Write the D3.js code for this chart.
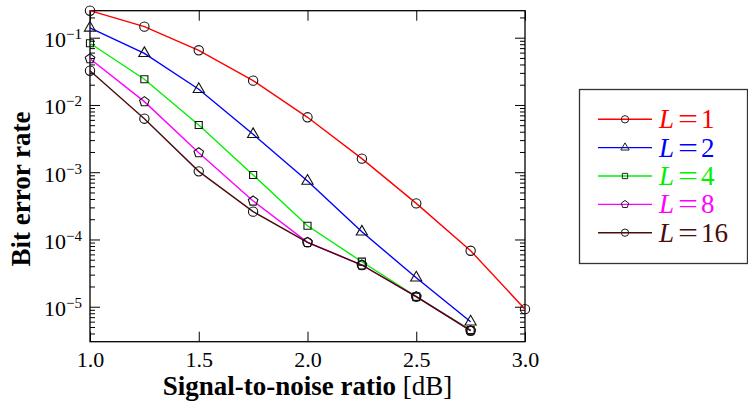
<!DOCTYPE html>
<html>
<head>
<meta charset="utf-8">
<script src="https://cdn.jsdelivr.net/npm/d3@7"></script>
<style>
  html, body { margin: 0; padding: 0; background: #fff; }
  svg { display: block; }
</style>
</head>
<body>
<svg id="chart" width="748" height="404"></svg>
<script>
// Signal-to-noise ratio grid (dB)
const snr = [1.0, 1.25, 1.5, 1.75, 2.0, 2.25, 2.5, 2.75, 3.0];

// Bit error rate per diversity order L
const berL1  = [0.252, 0.146, 0.065, 0.0230, 0.00655, 0.00159, 3.44e-4, 6.8e-5, 9.2e-6];
const berL2  = [0.14, 0.0586, 0.0171, 0.00366, 7.4e-4, 1.30e-4, 2.7e-5, 5.98e-6];
const berL4  = [0.0826, 0.0241, 0.00504, 9.1e-4, 1.60e-4, 4.67e-5, 1.41e-5, 4.5e-6];
const berL8  = [0.0487, 0.0112, 0.00195, 3.73e-4, 9.05e-5, 4.17e-5, 1.41e-5, 4.4e-6];
const berL16 = [0.0323, 0.00625, 0.00103, 2.59e-4, 9.05e-5, 4.17e-5, 1.41e-5, 4.4e-6];

const seriesNames = ["1", "2", "4", "8", "16"];
const seriesValues = [berL1, berL2, berL4, berL8, berL16];
const seriesColors = ["#ff0000", "#0000ff", "#00f000", "#ff00ff", "#4a0c0c"];

const xTicks = [1.0, 1.5, 2.0, 2.5, 3.0];
const yMajorExponents = [-1, -2, -3, -4, -5];

const xLabel = "Signal-to-noise ratio";
const xUnit = "[dB]";
const yLabel = "Bit error rate";

const SERIF = '"Liberation Serif", "Times New Roman", serif';

// Pentagon marker for d3.symbol
const symbolPentagon = {
  draw(context, size) {
    const r = Math.sqrt(size / 2.378);
    for (let i = 0; i < 5; i++) {
      const a = -Math.PI / 2 + i * 2 * Math.PI / 5;
      const px = r * Math.cos(a), py = r * Math.sin(a);
      if (i === 0) context.moveTo(px, py); else context.lineTo(px, py);
    }
    context.closePath();
  }
};
const seriesSymbols = [d3.symbolCircle, d3.symbolTriangle, d3.symbolSquare, symbolPentagon, d3.symbolCircle];
const symbolSizes   = [68, 54, 50, 60, 68];
const legendSizes   = [42, 30, 28, 36, 42];

const svg = d3.select("#chart");
const plot = { left: 90, right: 525, top: 10.7, bottom: 341.7 };

const x = d3.scaleLinear().domain([1, 3]).range([plot.left, plot.right]);
const y = d3.scaleLog().domain([3.02e-6, 0.252]).range([plot.bottom, plot.top]);

// Minor log ticks (2..9 x 10^n) inside the domain
const minorTicks = [];
for (let e = -6; e <= -1; e++) {
  for (let k = 2; k <= 9; k++) {
    const v = k * Math.pow(10, e);
    if (v >= y.domain()[0] && v <= y.domain()[1]) minorTicks.push(v);
  }
}
const majorTicks = yMajorExponents.map(e => Math.pow(10, e));

function styleAxis(g) {
  g.select(".domain").remove();
  g.attr("font-family", null).attr("font-size", null);
  g.selectAll(".tick line").attr("stroke", "#000").attr("stroke-width", 1);
}

// Left axis: minor and major ticks pointing inward
svg.append("g").attr("transform", `translate(${plot.left},0)`)
  .call(d3.axisLeft(y).tickValues(minorTicks).tickSize(-5).tickFormat(""))
  .call(styleAxis);
const leftMajor = svg.append("g").attr("transform", `translate(${plot.left},0)`)
  .call(d3.axisLeft(y).tickValues(majorTicks).tickSize(-10).tickFormat(""))
  .call(styleAxis);
leftMajor.selectAll(".tick text").remove();

// Right axis ticks
svg.append("g").attr("transform", `translate(${plot.right},0)`)
  .call(d3.axisRight(y).tickValues(minorTicks).tickSize(-5).tickFormat(""))
  .call(styleAxis);
svg.append("g").attr("transform", `translate(${plot.right},0)`)
  .call(d3.axisRight(y).tickValues(majorTicks).tickSize(-10).tickFormat(""))
  .call(styleAxis);

// Power-of-ten labels with superscript exponents
leftMajor.selectAll(".tick").each(function(d) {
  const t = d3.select(this).append("text")
    .attr("x", -8).attr("y", 9)
    .attr("text-anchor", "end")
    .attr("fill", "#000")
    .style("font-family", SERIF)
    .style("font-size", "22px");
  t.append("tspan").text("10");
  t.append("tspan").attr("dy", -8).style("font-size", "15px")
    .text("\u2212" + Math.round(-Math.log10(d)));
});

// Bottom and top axes
const bottomAxis = svg.append("g").attr("transform", `translate(0,${plot.bottom})`)
  .call(d3.axisBottom(x).tickValues(xTicks).tickSize(-10).tickPadding(0).tickFormat(d3.format(".1f")))
  .call(styleAxis);
bottomAxis.selectAll(".tick text")
  .attr("y", 25.5).attr("dy", null)
  .attr("fill", "#000")
  .style("font-family", SERIF)
  .style("font-size", "22px");
svg.append("g").attr("transform", `translate(0,${plot.top})`)
  .call(d3.axisTop(x).tickValues(xTicks).tickSize(-10).tickFormat(""))
  .call(styleAxis);

// Frame
svg.append("rect")
  .attr("x", plot.left).attr("y", plot.top)
  .attr("width", plot.right - plot.left).attr("height", plot.bottom - plot.top)
  .attr("fill", "none").attr("stroke", "#000").attr("stroke-width", 1.3);

// Series lines and markers
const line = d3.line().x((d, i) => x(snr[i])).y(d => y(d));
seriesValues.forEach((vals, s) => {
  svg.append("path")
    .datum(vals)
    .attr("d", line)
    .attr("fill", "none")
    .attr("stroke", seriesColors[s])
    .attr("stroke-width", 1.4);
});
seriesValues.forEach((vals, s) => {
  svg.append("g").selectAll("path")
    .data(vals)
    .join("path")
    .attr("transform", (d, i) => `translate(${x(snr[i])},${y(d)})`)
    .attr("d", d3.symbol().type(seriesSymbols[s]).size(symbolSizes[s]))
    .attr("fill", "none")
    .attr("stroke", "#111")
    .attr("stroke-width", 1.1);
});

// Axis titles
const xt = svg.append("text")
  .attr("x", (plot.left + plot.right) / 2).attr("y", 395)
  .attr("text-anchor", "middle")
  .attr("fill", "#000")
  .style("font-family", SERIF)
  .style("font-size", "27px");
xt.append("tspan").style("font-weight", "bold").text(xLabel + " ");
xt.append("tspan").text(xUnit);

svg.append("text")
  .attr("transform", "translate(30,189) rotate(-90)")
  .attr("text-anchor", "middle")
  .attr("fill", "#000")
  .style("font-family", SERIF)
  .style("font-size", "27px")
  .style("font-weight", "bold")
  .text(yLabel);

// Legend
const legend = svg.append("g");
legend.append("rect")
  .attr("x", 579.5).attr("y", 89.5).attr("width", 168).attr("height", 174)
  .attr("fill", "#fff").attr("stroke", "#333").attr("stroke-width", 1.3);

const legendRow = d3.scaleLinear().domain([0, 4]).range([119.3, 232.7]);
seriesNames.forEach((name, s) => {
  const ry = legendRow(s);
  legend.append("line")
    .attr("x1", 598).attr("x2", 652).attr("y1", ry).attr("y2", ry)
    .attr("stroke", seriesColors[s]).attr("stroke-width", 1.4);
  legend.append("path")
    .attr("transform", `translate(625,${ry})`)
    .attr("d", d3.symbol().type(seriesSymbols[s]).size(legendSizes[s]))
    .attr("fill", "none").attr("stroke", "#222").attr("stroke-width", 1);
  const common = sel => sel
    .attr("y", ry + 9)
    .attr("fill", seriesColors[s])
    .style("font-family", SERIF)
    .style("font-size", "27px");
  legend.append("text").call(common)
    .attr("x", 659)
    .style("font-style", "italic")
    .text("L");
  legend.append("text").call(common)
    .attr("x", 678)
    .attr("textLength", 20).attr("lengthAdjust", "spacingAndGlyphs")
    .text("=");
  legend.append("text").call(common)
    .attr("x", 701)
    .text(name);
});
</script>
</body>
</html>
